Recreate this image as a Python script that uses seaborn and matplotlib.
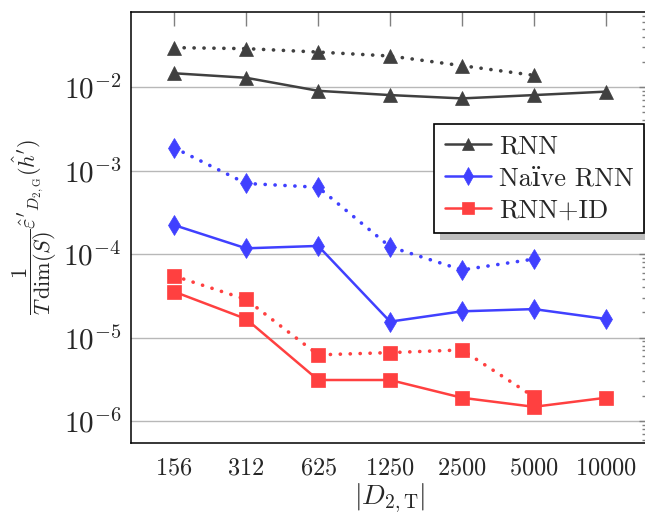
import matplotlib
matplotlib.use("Agg")
import matplotlib.pyplot as plt
import matplotlib.ticker as mticker
import numpy as np
import pandas as pd
import seaborn as sns

# data
sizes = [156, 312, 625, 1250, 2500, 5000, 10000]
tick_labels = ["156", "312", "625", "1250", "2500", "5000", "10000"]

rnn_solid = [0.0146, 0.0129, 0.0090, 0.0080, 0.0073, 0.0080, 0.0088]
rnn_dotted = [0.0296, 0.0288, 0.0262, 0.0235, 0.0180, 0.0138]

naive_solid = [2.22e-4, 1.17e-4, 1.25e-4, 1.55e-5, 2.06e-5, 2.19e-5, 1.67e-5]
naive_dotted = [1.87e-3, 7.0e-4, 6.3e-4, 1.22e-4, 6.45e-5, 8.7e-5]

id_solid = [3.54e-5, 1.67e-5, 3.1e-6, 3.1e-6, 1.9e-6, 1.48e-6, 1.9e-6]
id_dotted = [5.46e-5, 2.86e-5, 6.2e-6, 6.6e-6, 7.1e-6, 1.95e-6]

legend_labels = ["RNN", "Naïve RNN", "RNN+ID"]

sns.set_style("white")
plt.rcParams["mathtext.fontset"] = "cm"
plt.rcParams["font.family"] = ["cmr10", "DejaVu Serif"]
plt.rcParams["axes.formatter.use_mathtext"] = True

fig = plt.figure(figsize=(6.45, 5.12), dpi=100)
ax = fig.add_axes([131 / 645, 69 / 512, 518 / 645, 431 / 512])

series = [
    (rnn_solid, rnn_dotted, "#404040", "^", 10.5),
    (naive_solid, naive_dotted, "#4040ff", "d", 10.5),
    (id_solid, id_dotted, "#ff4040", "s", 10),
]

handles = []
for solid, dotted, color, marker, ms in series:
    df_s = pd.DataFrame({"x": sizes[:len(solid)], "y": solid})
    df_d = pd.DataFrame({"x": sizes[:len(dotted)], "y": dotted})
    sns.lineplot(data=df_d, x="x", y="y", ax=ax, color=color, marker=marker,
                 markersize=ms, markeredgecolor=color, markeredgewidth=0.5,
                 linestyle=(0, (0.05, 2.7)), linewidth=2.6, dash_capstyle="round")
    sns.lineplot(data=df_s, x="x", y="y", ax=ax, color=color, marker=marker,
                 markersize=ms, markeredgecolor=color, markeredgewidth=0.5,
                 linewidth=1.8)
    handles.append(ax.lines[-1])

ax.set_xscale("log", base=2)
ax.set_yscale("log")
ax.set_xlim(156 / 2 ** 0.6, 10000 * 2 ** 0.6)
ax.set_ylim(10 ** -6.263, 10 ** -1.102)

ax.xaxis.set_major_locator(mticker.FixedLocator(sizes))
ax.xaxis.set_major_formatter(mticker.FixedFormatter(["$" + t + "$" for t in tick_labels]))
ax.xaxis.set_minor_locator(mticker.NullLocator())
ax.yaxis.set_major_locator(mticker.LogLocator(base=10, numticks=20))
ax.yaxis.set_minor_locator(mticker.LogLocator(base=10, subs=np.arange(2, 10), numticks=20))
ax.yaxis.set_minor_formatter(mticker.NullFormatter())

ax.tick_params(axis="both", which="both", direction="in", top=True, right=True,
               color="#808080", width=1)
ax.tick_params(axis="x", which="major", length=10, labelsize=17.5, pad=10)
ax.tick_params(axis="y", which="major", length=7, labelsize=21, pad=7)
ax.tick_params(axis="y", which="minor", length=5)

ax.grid(True, axis="y", which="major", color="#b8b8b8", linewidth=1)
ax.grid(False, axis="x")
for sp in ax.spines.values():
    sp.set_color("black")
    sp.set_linewidth(1.1)

ax.set_xlabel(r"$|D_{2,\mathrm{T}}|$", fontsize=20, labelpad=2)
ax.set_ylabel(r"$\dfrac{1}{T\,\dim(S)}\hat{\varepsilon}'_{D_{2,\mathrm{G}}}(\hat{h}')$",
              fontsize=16, labelpad=3)

leg = ax.legend(handles, legend_labels,
                loc="upper left", bbox_to_anchor=(0.585, 0.74), borderaxespad=0,
                fontsize=19,
                frameon=True, fancybox=False, framealpha=1, edgecolor="black",
                handlelength=1.75, handletextpad=0.3, borderpad=0.4, labelspacing=0.32,
                shadow={"ox": 4.5, "oy": -4.5, "facecolor": "#bdbdbd",
                        "edgecolor": "none", "alpha": 1})
leg.get_frame().set_linewidth(1.2)
for h in leg.legend_handles:
    h.set_markersize(9)

fig.savefig("out.png", dpi=100)
